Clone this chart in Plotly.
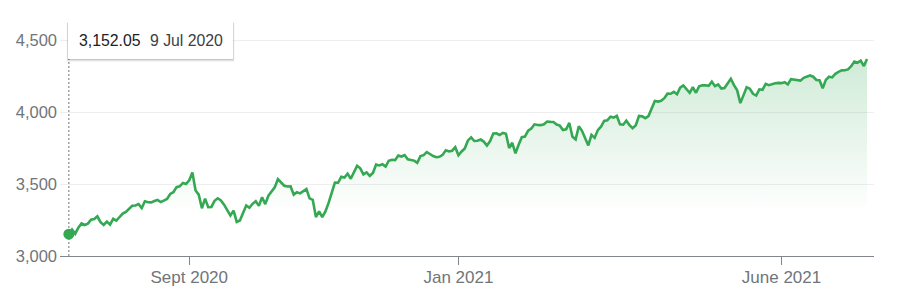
import pandas as pd
import plotly.graph_objects as go

# S&P 500 daily closes, 9 Jul 2020 - 9 Jul 2021
jul20 = [3152.05, 3185.04, 3155.22, 3197.52, 3226.56, 3215.57, 3224.73, 3251.84, 3257.30,
         3276.02, 3235.66, 3215.63, 3239.41, 3218.44, 3258.44, 3246.22, 3271.12]
aug20 = [3294.61, 3306.51, 3327.77, 3349.16, 3351.28, 3360.47, 3333.69, 3380.35, 3373.43,
         3372.85, 3381.99, 3389.78, 3374.85, 3385.51, 3397.16, 3431.28, 3443.62, 3478.73,
         3484.55, 3508.01, 3500.31]
sep20 = [3526.65, 3580.84, 3455.06, 3426.96, 3331.84, 3398.96, 3339.19, 3340.97, 3383.54,
         3401.20, 3385.49, 3357.01, 3319.47, 3281.06, 3315.57, 3236.92, 3246.59, 3298.46,
         3351.60, 3335.47, 3363.00]
oct20 = [3380.80, 3348.42, 3408.60, 3360.97, 3419.44, 3446.83, 3477.14, 3534.22, 3511.93,
         3488.67, 3483.34, 3483.81, 3426.92, 3443.12, 3435.56, 3453.49, 3465.39, 3400.97,
         3390.68, 3271.03, 3310.11, 3269.96]
nov20 = [3310.24, 3369.16, 3443.44, 3510.45, 3509.44, 3550.50, 3545.53, 3572.66, 3537.01,
         3585.15, 3626.91, 3609.53, 3567.79, 3581.87, 3557.54, 3577.59, 3635.41, 3629.65,
         3638.35, 3621.63]
dec20 = [3662.45, 3669.01, 3666.72, 3699.12, 3691.96, 3702.25, 3672.82, 3668.10, 3663.46,
         3647.49, 3694.62, 3701.17, 3722.48, 3709.41, 3694.92, 3687.26, 3690.01, 3703.06,
         3735.36, 3727.04, 3732.04, 3756.07]
jan21 = [3700.65, 3726.86, 3748.14, 3803.79, 3824.68, 3799.61, 3801.19, 3809.84, 3795.54,
         3768.25, 3798.91, 3851.85, 3853.07, 3841.47, 3855.36, 3849.62, 3750.77, 3787.38,
         3714.24]
feb21 = [3773.86, 3826.31, 3830.17, 3871.74, 3886.83, 3915.59, 3911.23, 3909.88, 3916.38,
         3934.83, 3932.59, 3931.33, 3913.97, 3906.71, 3876.50, 3881.37, 3925.43, 3829.34,
         3811.15]
mar21 = [3901.82, 3870.29, 3819.72, 3768.47, 3841.94, 3821.35, 3875.44, 3898.81, 3939.34,
         3943.34, 3968.94, 3962.71, 3974.12, 3915.46, 3913.10, 3940.59, 3910.52, 3889.14,
         3909.52, 3974.54, 3971.09, 3958.55, 3972.89]
apr21 = [4019.87, 4077.91, 4073.94, 4079.95, 4097.17, 4128.80, 4127.99, 4141.59, 4124.66,
         4170.42, 4185.47, 4163.26, 4134.94, 4173.42, 4134.98, 4180.17, 4187.62, 4186.72,
         4183.18, 4211.47, 4181.17]
may21 = [4192.66, 4164.66, 4167.59, 4201.62, 4232.60, 4188.43, 4152.10, 4063.04, 4112.50,
         4173.85, 4163.29, 4127.83, 4115.68, 4159.12, 4155.86, 4197.05, 4188.13, 4195.99,
         4200.88, 4204.11]
jun21 = [4202.04, 4208.12, 4192.85, 4229.89, 4226.52, 4227.26, 4219.55, 4239.18, 4247.44,
         4255.15, 4246.59, 4223.70, 4221.86, 4166.45, 4224.79, 4246.44, 4241.84, 4266.49,
         4280.70, 4290.61, 4291.80, 4297.50]
jul21 = [4319.94, 4352.34, 4343.54, 4358.13, 4320.82, 4369.55]

closes = jul20 + aug20 + sep20 + oct20 + nov20 + dec20 + jan21 + feb21 + mar21 + apr21 + may21 + jun21 + jul21

holidays = ["2020-09-07", "2020-11-26", "2020-12-25", "2021-01-01", "2021-01-18",
            "2021-02-15", "2021-04-02", "2021-05-31", "2021-07-05"]
dates = [d for d in pd.bdate_range("2020-07-09", "2021-07-09") if d.strftime("%Y-%m-%d") not in holidays]
n = min(len(dates), len(closes))
dates = dates[:n]
closes = closes[:n]
idx = list(range(n))

tick_dates = ["2020-09-01", "2021-01-04", "2021-06-01"]
tick_text = ["Sept 2020", "Jan 2021", "June 2021"]
ytick_vals = [3000, 3500, 4000, 4500]

date_str = [d.strftime("%Y-%m-%d") for d in dates]
tick_idx = [date_str.index(t) for t in tick_dates]

GREEN = "#34a853"
GRAY = "#70757a"
FONT = "Arial, Liberation Sans, sans-serif"

fig = go.Figure()
fig.add_trace(go.Scatter(
    x=idx, y=closes, mode="lines",
    line=dict(color=GREEN, width=2.6),
    fill="tozeroy",
    fillgradient=dict(type="vertical", start=3300, stop=4400,
                      colorscale=[[0, "rgba(52,168,83,0)"], [1, "rgba(52,168,83,0.24)"]]),
    hoverinfo="skip", showlegend=False,
))
fig.add_trace(go.Scatter(
    x=[idx[0]], y=[closes[0]], mode="markers",
    marker=dict(color=GREEN, size=11), hoverinfo="skip", showlegend=False,
))

W, H = 902, 304
ml, mr, mt, mb = 60, 28, 18, 48
pw, ph = W - ml - mr, H - mt - mb

def px(xp):
    return (xp - ml) / pw

def py(yp):
    return (H - mb - yp) / ph

# dashed crosshair
fig.add_shape(type="line", xref="x", yref="paper", x0=idx[0], x1=idx[0],
              y0=0, y1=py(59), line=dict(color=GRAY, width=1, dash="2px,2px"), layer="below")

# tooltip box with soft shadow
bx0, bx1, by0, by1 = 68, 233, 22, 59
for off, col in [(3, "rgba(0,0,0,0.04)"), (2, "rgba(0,0,0,0.07)"), (1, "rgba(0,0,0,0.12)")]:
    fig.add_shape(type="rect", xref="paper", yref="paper",
                  x0=px(bx0 - off / 2), x1=px(bx1 + off / 2), y0=py(by1 + off), y1=py(by0 + off / 3),
                  line=dict(width=0), fillcolor=col, layer="above")
fig.add_shape(type="rect", xref="paper", yref="paper",
              x0=px(bx0), x1=px(bx1), y0=py(by1), y1=py(by0),
              line=dict(width=0), fillcolor="white", layer="above")

fig.add_annotation(xref="paper", yref="paper", x=px(77), y=py(40.5), xanchor="left", yanchor="middle",
                   text=f"{closes[0]:,.2f}", showarrow=False,
                   font=dict(family=FONT, size=15.8, color="#202124"))
fig.add_annotation(xref="paper", yref="paper", x=px(148), y=py(40.5), xanchor="left", yanchor="middle",
                   text=f"{dates[0].day} {dates[0].strftime('%b %Y')}", showarrow=False,
                   font=dict(family=FONT, size=15.8, color="#3c4043"))

fig.update_layout(
    width=W, height=H, autosize=False,
    margin=dict(l=ml, r=mr, t=mt, b=mb, pad=0),
    paper_bgcolor="white", plot_bgcolor="white",
    hovermode=False,
    font=dict(family=FONT, size=16, color=GRAY),
    xaxis=dict(
        range=[-2.8, 254.2], showgrid=False, zeroline=False,
        showline=True, linecolor="#80868b", linewidth=1,
        ticks="outside", ticklen=8, tickcolor="#80868b", tickwidth=1,
        tickvals=tick_idx, ticktext=tick_text,
        tickfont=dict(family=FONT, size=17, color=GRAY),
        ticklabelstandoff=-2,
    ),
    yaxis=dict(
        range=[3000, 4655], showgrid=True, gridcolor="#eeeeee", gridwidth=1,
        zeroline=False, showline=False, ticks="",
        tickvals=ytick_vals, tickformat=",",
        tickfont=dict(family=FONT, size=16.5, color=GRAY),
        ticklabelstandoff=2,
    ),
)

fig.write_html("out.html")
